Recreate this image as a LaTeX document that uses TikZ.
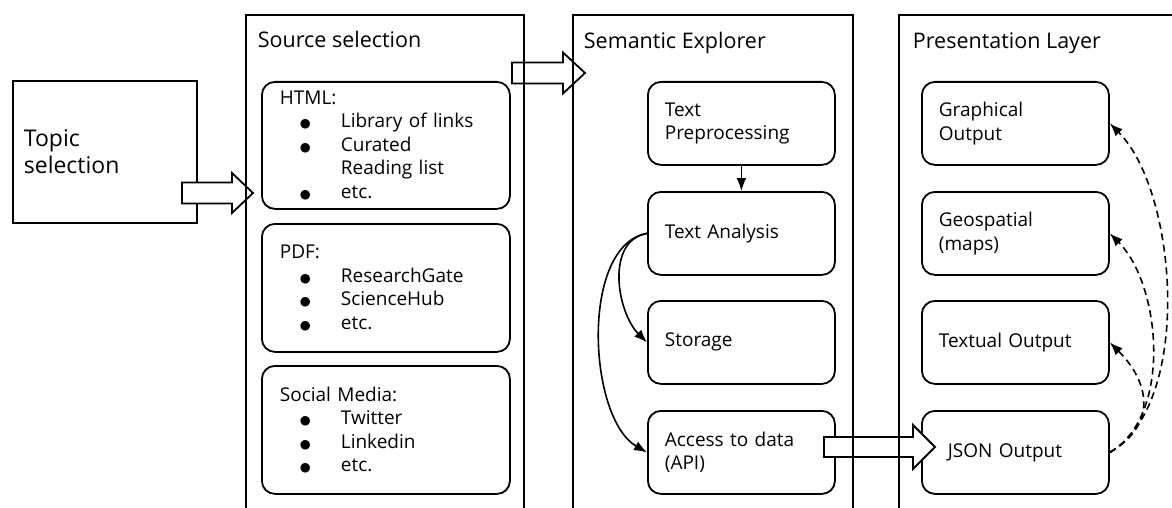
\documentclass[tikz,border=0pt]{standalone}
\usepackage{fontspec}
\setmainfont{Open Sans}
\newfontfamily\symfont{DejaVu Sans}
\usetikzlibrary{arrows.meta,calc}
\newcommand\bigbul{{\symfont\fontsize{12.5}{12.5}\selectfont ●}}
\newcommand\itm[1]{\makebox[61pt][l]{\hspace{20pt}\bigbul}#1}
\newcommand\blockarrow[5]{\filldraw[fill=white, line width=1.8pt, line join=miter] let \p1=(#1), \p2=(#2) in (\x1,\y1+#3) -- (\x2-#5,\y1+#3) -- (\x2-#5,\y1+#4) -- (\x2,\y1) -- (\x2-#5,\y1-#4) -- (\x2-#5,\y1-#3) -- (\x1,\y1-#3) -- cycle;}
\begin{document}
\begin{tikzpicture}[x=1pt,y=-1pt, line width=1.8pt,
  bodyfont/.style={font=\fontsize{19}{23.5}\selectfont},
  headfont/.style={font=\fontsize{21.5}{26}\selectfont},
  panel/.style={draw, anchor=north west, minimum width=#1, minimum height=530pt, inner sep=0pt},
  srcbox/.style={draw, rounded corners=13pt, anchor=north west, minimum width=248pt, text width=212pt, inner xsep=18pt, inner ysep=0pt, align=left, bodyfont},
  stepbox/.style={draw, rounded corners=13pt, anchor=north west, minimum width=187pt, minimum height=83pt, text width=153pt, inner xsep=17pt, inner ysep=0pt, align=left, bodyfont},
  header/.style={anchor=base west, inner sep=0pt, headfont},
  arr/.style={-{Latex[length=13pt,width=10pt]}, line width=1.6pt},
  darr/.style={arr, dash pattern=on 7pt off 4.5pt}]
\useasboundingbox (0,0) rectangle (1172,508);
\clip (0,0) rectangle (1172,508);
% topic
\node[draw, anchor=north west, minimum width=184pt, minimum height=142pt, text width=162pt, inner xsep=11pt, align=left, font=\fontsize{23}{27}\selectfont] (topic) at (12,80) {Topic\\selection};
% source boxes
\node[srcbox, minimum height=127pt] (html) at (261,81) {HTML:\\\itm{Library of links}\\\itm{Curated}\\\makebox[61pt]{}Reading list\\\itm{etc.}};
\node[srcbox, minimum height=128pt] (pdf) at (261,223) {PDF:\\\itm{ResearchGate}\\\itm{ScienceHub}\\\itm{etc.}};
\node[srcbox, minimum height=128pt] (social) at (261,365) {Social Media:\\\itm{Twitter}\\\itm{Linkedin}\\\itm{etc.}};
% semantic boxes
\node[stepbox] (pp) at (647,81) {Text\\Preprocessing};
\node[stepbox] (ta) at (647,191) {Text Analysis};
\node[stepbox] (st) at (647,300) {Storage};
\node[stepbox] (ac) at (647,410) {Access to data\\(API)};
% presentation boxes
\node[stepbox] (gr) at (921,81) {Graphical\\Output};
\node[stepbox] (geo) at (921,191) {Geospatial\\(maps)};
\node[stepbox] (txt) at (921,300) {Textual Output};
\node[stepbox] (json) at (921,410) {\hspace{9pt}JSON Output};
% block arrows
\coordinate (a1s) at (182,193); \coordinate (a1e) at (253,193);
\coordinate (a2s) at (512,73);  \coordinate (a2e) at (585,73);
\coordinate (a3s) at (824,447); \coordinate (a3e) at (935,447);
\blockarrow{a1s}{a1e}{10.5pt}{20pt}{21pt}
\blockarrow{a2s}{a2e}{10.5pt}{20.5pt}{22pt}
\blockarrow{a3s}{a3e}{10pt}{22pt}{22pt}
% panels
\node[panel=278pt] (p1) at (245,14) {};
\node[panel=280pt] (p2) at (572,14) {};
\node[panel=300pt] (p3) at (898,14) {};
\node[header] (h1) at (257,48) {Source selection};
\node[header] (h2) at (583,49) {Semantic Explorer};
\node[header] (h3) at (912,49) {Presentation Layer};
% connectors
\draw[arr] (pp.south) -- (ta.north);
\draw[arr] (ta.west) to[out=190,in=135] (st.west);
\draw[arr] (ta.west) to[out=190,in=150,looseness=0.8] (ac.west);
\draw[darr] (json.east) to[out=30,in=-45,looseness=0.75] (gr.east);
\draw[darr] (json.east) to[out=30,in=-45,looseness=0.85] (geo.east);
\draw[darr] (json.east) to[out=30,in=-45,looseness=1.3] (txt.east);
\end{tikzpicture}
\end{document}
